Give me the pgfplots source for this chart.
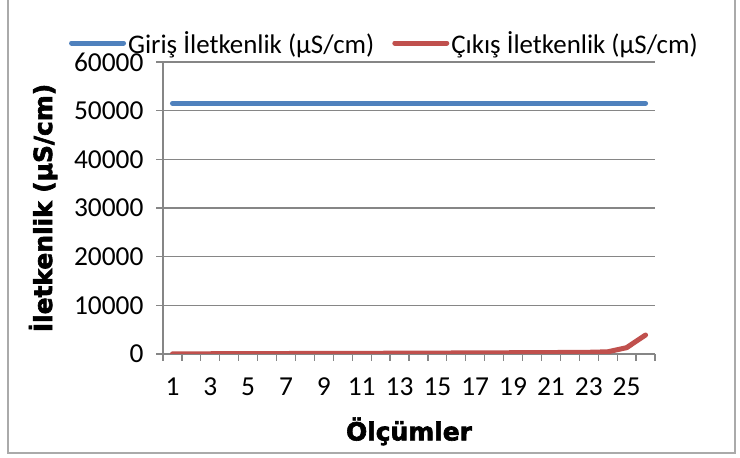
\documentclass[border=0pt]{standalone}
\usepackage{fontspec}
\setmainfont{Carlito}
\newfontfamily\titlefont[UprightFont={* Bold},UprightFeatures={FakeBold=2.5}]{DejaVu Sans}
\usepackage{pgfplots}
\pgfplotsset{compat=1.18}
\definecolor{exblue}{HTML}{4F81BD}
\definecolor{exred}{HTML}{C0504D}
\definecolor{exgray}{HTML}{868686}
\begin{document}
\begin{tikzpicture}[x=1bp,y=1bp]
\useasboundingbox[fill=white] (0,0) rectangle (740,458);
\draw[exgray!70, line width=1.2bp] (8,470) -- (8,5) -- (735,5) -- (735,470);
\begin{axis}[
  at={(163bp,104bp)}, anchor=south west,
  scale only axis, width=492bp, height=292bp,
  xmin=0.5, xmax=26.5, ymin=0, ymax=60000,
  axis x line*=bottom, axis y line*=left,
  axis line style={exgray, line width=1.2bp},
  xtick={0.5,1.5,...,26.5}, xticklabels={},
  extra x ticks={1,3,...,25},
  extra x tick style={major tick length=0pt, grid=none},
  ytick={0,10000,...,60000},
  ymajorgrids, grid style={exgray, line width=1.2bp},
  tick align=outside, major tick length=7bp,
  tick style={exgray, line width=1.2bp},
  scaled y ticks=false,
  /pgf/number format/assume math mode=true,
  /pgf/number format/set thousands separator={},
  tick label style={font=\fontsize{27.5}{27.5}\selectfont, black},
  yticklabel style={xshift=-9bp},
  xticklabel style={yshift=-20bp},
  xlabel={\titlefont\fontsize{25}{25}\selectfont Ölçümler},
  ylabel={\titlefont\fontsize{25}{25}\selectfont İletkenlik (μS/cm)},
  xlabel style={yshift=-8bp},
  ylabel style={yshift=10bp},
  legend columns=2,
  legend style={at={(0.45,1.065)}, anchor=center, draw=none, fill=none,
    font=\fontsize{27}{27}\selectfont, inner sep=0pt,
    /tikz/every even column/.append style={column sep=16bp}},
  legend image code/.code={\draw[#1, line width=5bp] (0bp,0bp) -- (52bp,0bp);},
  every axis legend/.append style={cells={anchor=west}},
]
\addplot[exblue, line width=5bp, line cap=round] coordinates {
(1,51500)(2,51500)(3,51500)(4,51500)(5,51500)(6,51500)(7,51500)(8,51500)(9,51500)(10,51500)
(11,51500)(12,51500)(13,51500)(14,51500)(15,51500)(16,51500)(17,51500)(18,51500)(19,51500)(20,51500)
(21,51500)(22,51500)(23,51500)(24,51500)(25,51500)(26,51500)};
\addlegendentry{Giriş İletkenlik (μS/cm)}
\addplot[exred, line width=5bp, line cap=round, line join=round] coordinates {
(1,30)(2,40)(3,50)(4,60)(5,70)(6,80)(7,100)(8,110)(9,120)(10,130)
(11,140)(12,150)(13,170)(14,180)(15,190)(16,210)(17,220)(18,240)(19,260)(20,280)
(21,300)(22,320)(23,350)(24,450)(25,1300)(26,3900)};
\addlegendentry{Çıkış İletkenlik (μS/cm)}
\end{axis}
\end{tikzpicture}
\end{document}
